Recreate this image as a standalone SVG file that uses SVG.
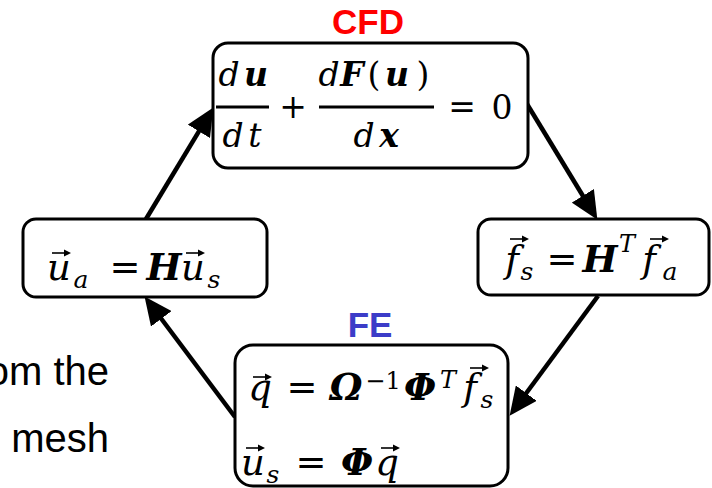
<svg xmlns="http://www.w3.org/2000/svg" width="712" height="488" viewBox="0 0 712 488">
<defs>
<marker id="ah" markerUnits="userSpaceOnUse" markerWidth="28" markerHeight="26" viewBox="0 0 26 24" refX="16" refY="12" orient="auto">
<path d="M0,0 L26,12 L0,24 z" fill="#000"/>
</marker>
<g id="vec">
<path d="M-9,0 H5" stroke="#000" stroke-width="1.6" fill="none"/>
<path d="M3,-3.6 L10,0 L3,3.6 z" fill="#000"/>
</g>
<style>
.box{fill:#fff;stroke:#000;stroke-width:3}
.conn line{stroke:#000;stroke-width:4.5;marker-end:url(#ah)}
.m{font-family:"DejaVu Serif","Liberation Serif",serif;font-style:italic;text-anchor:middle;fill:#000}
.r{font-family:"DejaVu Serif","Liberation Serif",serif;font-style:normal;text-anchor:middle;fill:#000}
.b{font-weight:bold}
.lab{font-family:"Liberation Sans",Arial,sans-serif;font-weight:bold;font-size:35px;text-anchor:middle}
.side{font-family:"Liberation Sans",Arial,sans-serif;font-size:40px;text-anchor:end;fill:#000}
</style>
</defs>
<rect width="712" height="488" fill="#fff"/>

<g id="sidetext">
<text class="side" x="109" y="385">om the</text>
<text class="side" x="109" y="452">mesh</text>
</g>

<g class="conn" id="connectors">
<line x1="146" y1="219" x2="207.8" y2="116.6"/>
<line x1="527" y1="104" x2="591.8" y2="210.5"/>
<line x1="598" y1="296" x2="516" y2="407"/>
<line x1="235" y1="417" x2="151" y2="305"/>
</g>

<g id="cfd">
<text class="lab" x="368" y="34" fill="#FF0000">CFD</text>
<rect class="box" x="213" y="43" width="315" height="125" rx="15"/>
<g font-size="33">
<text class="m" x="229" y="86">d</text>
<text class="m b" x="256" y="86">u</text>
<line x1="216" y1="107" x2="269" y2="107" stroke="#000" stroke-width="3"/>
<text class="m" x="233" y="147">d</text>
<text class="m" x="255" y="147">t</text>
<text class="r" x="293" y="118">+</text>
<text class="m" x="329" y="86">d</text>
<text class="m b" x="352" y="86">F</text>
<text class="r" x="374" y="86">(</text>
<text class="m b" x="397" y="86">u</text>
<text class="r" x="423" y="86">)</text>
<line x1="319" y1="107" x2="434" y2="107" stroke="#000" stroke-width="3"/>
<text class="m" x="364" y="147">d</text>
<text class="m b" x="389" y="147">x</text>
<text class="r" x="462" y="118">=</text>
<text class="r" x="502" y="119">0</text>
</g>
</g>

<g id="ua">
<rect class="box" x="23" y="219" width="244" height="78" rx="13"/>
<g font-size="37">
<text class="m" x="59" y="280">u</text>
<use href="#vec" x="61" y="253"/>
<text class="m" x="81" y="288" font-size="25">a</text>
<text class="r" x="125" y="280">=</text>
<text class="m b" x="164" y="280">H</text>
<text class="m" x="193" y="280">u</text>
<use href="#vec" x="195" y="253"/>
<text class="m" x="214" y="288" font-size="25">s</text>
</g>
</g>

<g id="fs">
<rect class="box" x="478" y="219" width="231" height="76" rx="13"/>
<g font-size="37">
<text class="m" x="512" y="272">f</text>
<use href="#vec" x="519" y="239"/>
<text class="m" x="527" y="280" font-size="25">s</text>
<text class="r" x="562" y="272">=</text>
<text class="m b" x="600" y="272">H</text>
<text class="m" x="627" y="252" font-size="24">T</text>
<text class="m" x="649" y="272">f</text>
<use href="#vec" x="659" y="239"/>
<text class="m" x="670" y="280" font-size="25">a</text>
</g>
</g>

<g id="fe">
<text class="lab" x="370" y="337" fill="#3C3CC8">FE</text>
<rect class="box" x="235" y="345" width="273" height="141" rx="18"/>
<g font-size="37">
<text class="m" x="260" y="400">q</text>
<use href="#vec" x="262" y="377"/>
<text class="r" x="302" y="400">=</text>
<text class="m b" x="346" y="400">Ω</text>
<text class="r" x="383" y="389" font-size="24">−1</text>
<text class="m b" x="420" y="400">Φ</text>
<text class="m" x="448" y="388" font-size="24">T</text>
<text class="m" x="470" y="400">f</text>
<use href="#vec" x="479" y="368"/>
<text class="m" x="487" y="408" font-size="25">s</text>
<text class="m" x="253" y="475">u</text>
<use href="#vec" x="255" y="448"/>
<text class="m" x="273" y="483" font-size="25">s</text>
<text class="r" x="311" y="475">=</text>
<text class="m b" x="357" y="475">Φ</text>
<text class="m" x="387" y="475">q</text>
<use href="#vec" x="390" y="448"/>
</g>
</g>
</svg>
